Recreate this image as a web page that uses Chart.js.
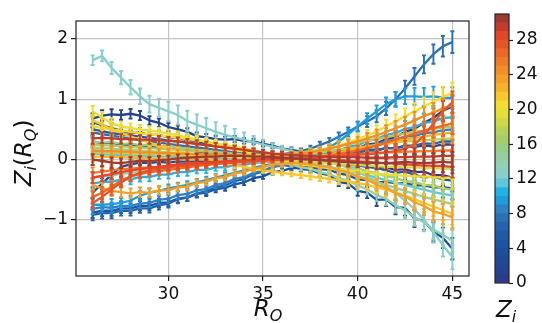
<!DOCTYPE html>
<html>
<head>
<meta charset="utf-8">
<script src="https://cdn.jsdelivr.net/npm/chart.js@4.4.1/dist/chart.umd.min.js"></script>
<style>
  body { margin: 0; background: #fff; }
  #main { position: absolute; left: 0; top: 0; }
  #cbar { position: absolute; left: 480px; top: 0; }
</style>
</head>
<body>
<canvas id="main" width="480" height="323"></canvas>
<canvas id="cbar" width="62" height="323"></canvas>
<script>
// x positions of the measurements (R_Q)
const xVals = [26, 26.5, 27, 27.5, 28, 28.5, 29, 29.5, 30, 30.5, 31, 31.5, 32, 32.5, 33, 33.5, 34, 34.5, 35, 35.5,
               36, 36.5, 37, 37.5, 38, 38.5, 39, 39.5, 40, 40.5, 41, 41.5, 42, 42.5, 43, 43.5, 44, 44.5, 45];
const xTicks = [30, 35, 40, 45];
const yTicks = [-1, 0, 1, 2];

// one line per Z_i
const z00 = [0.30,0.27,0.28,0.25,0.24,0.23,0.20,0.21,0.18,0.16, 0.16,0.13,0.12,0.12,0.09,0.10,0.07,0.06,0.06,0.03, 0.04,0.02,0.00,0.01,-0.02,-0.02,-0.05,-0.05,-0.09,-0.09, -0.13,-0.13,-0.17,-0.16,-0.21,-0.20,-0.26,-0.26,-0.30];
const z01 = [0.68,0.73,0.75,0.74,0.76,0.73,0.65,0.61,0.54,0.50, 0.46,0.39,0.37,0.34,0.33,0.34,0.31,0.30,0.26,0.23, 0.18,0.16,0.13,0.13,0.11,0.14,0.15,0.18,0.19,0.25, 0.27,0.34,0.37,0.46,0.51,0.61,0.69,0.81,0.88];
const z02 = [0.62,0.57,0.52,0.48,0.44,0.45,0.41,0.41,0.37,0.36, 0.32,0.31,0.26,0.25,0.20,0.19,0.14,0.13,0.09,0.09, 0.06,0.07,0.05,0.08,0.07,0.11,0.11,0.15,0.14,0.17, 0.16,0.19,0.19,0.22,0.21,0.23,0.22,0.25,0.25];
const z03 = [-0.55,-0.40,-0.25,-0.12,-0.08,-0.05,-0.06,-0.04,-0.05,-0.03, -0.04,-0.02,-0.03,-0.01,-0.03,0.00,-0.02,-0.01,-0.04,-0.04, -0.09,-0.11,-0.16,-0.17,-0.23,-0.26,-0.37,-0.40,-0.52,-0.55, -0.67,-0.66,-0.79,-0.80,-0.98,-1.02,-1.20,-1.30,-1.48];
const z04 = [-0.88,-0.85,-0.85,-0.81,-0.81,-0.77,-0.77,-0.72,-0.71,-0.65, -0.63,-0.57,-0.55,-0.49,-0.47,-0.41,-0.38,-0.31,-0.28,-0.21, -0.19,-0.14,-0.14,-0.12,-0.16,-0.17,-0.23,-0.26,-0.33,-0.34, -0.38,-0.37,-0.39,-0.39,-0.43,-0.43,-0.46,-0.46,-0.48];
const z05 = [0.50,0.47,0.44,0.42,0.40,0.38,0.36,0.34,0.32,0.30, 0.28,0.26,0.24,0.22,0.20,0.18,0.16,0.14,0.12,0.10, 0.08,0.06,0.04,0.02,0.00,-0.02,-0.05,-0.08,-0.10,-0.12, -0.14,-0.18,-0.22,-0.20,-0.25,-0.30,-0.28,-0.33,-0.35];
const z06 = [-0.92,-0.89,-0.89,-0.85,-0.85,-0.81,-0.81,-0.76,-0.73,-0.66, -0.63,-0.56,-0.53,-0.46,-0.43,-0.36,-0.32,-0.24,-0.20,-0.12, -0.09,-0.03,-0.02,0.03,0.03,0.07,0.07,0.11,0.11,0.15, 0.15,0.19,0.19,0.23,0.23,0.27,0.26,0.30,0.30];
const z07 = [0.45,0.42,0.40,0.37,0.35,0.32,0.30,0.28,0.26,0.24, 0.22,0.20,0.18,0.16,0.14,0.12,0.10,0.09,0.08,0.08, 0.09,0.11,0.14,0.18,0.24,0.30,0.38,0.46,0.55,0.63, 0.72,0.85,1.00,1.18,1.38,1.58,1.75,1.88,1.95];
const z08 = [-0.82,-0.79,-0.80,-0.77,-0.77,-0.73,-0.72,-0.67,-0.65,-0.59, -0.57,-0.51,-0.49,-0.42,-0.39,-0.32,-0.29,-0.22,-0.19,-0.12, -0.10,-0.04,-0.03,0.02,0.03,0.08,0.09,0.15,0.17,0.23, 0.25,0.31,0.33,0.38,0.39,0.44,0.45,0.49,0.50];
const z09 = [-0.75,-0.75,-0.74,-0.72,-0.68,-0.60,-0.55,-0.52,-0.48,-0.45, -0.42,-0.38,-0.34,-0.30,-0.26,-0.22,-0.18,-0.14,-0.10,-0.07, -0.04,-0.01,0.02,0.06,0.12,0.20,0.30,0.42,0.55,0.68, 0.80,0.92,1.00,1.05,1.05,1.04,1.05,1.03,1.02];
const z10 = [-0.40,-0.37,-0.37,-0.33,-0.33,-0.29,-0.29,-0.25,-0.25,-0.21, -0.21,-0.17,-0.17,-0.13,-0.13,-0.09,-0.09,-0.05,-0.05,-0.01, -0.01,0.03,0.03,0.07,0.08,0.13,0.15,0.21,0.24,0.31, 0.34,0.41,0.44,0.51,0.54,0.61,0.63,0.69,0.70];
const z11 = [0.10,0.09,0.08,0.08,0.07,0.06,0.06,0.05,0.05,0.04, 0.04,0.03,0.03,0.02,0.02,0.01,0.01,0.00,0.00,-0.01, -0.02,-0.03,-0.05,-0.07,-0.09,-0.12,-0.15,-0.18,-0.22,-0.26, -0.30,-0.34,-0.38,-0.42,-0.46,-0.50,-0.54,-0.57,-0.60];
const z12 = [1.65,1.72,1.52,1.36,1.20,1.05,0.92,0.86,0.80,0.74, 0.64,0.58,0.52,0.46,0.41,0.37,0.33,0.29,0.25,0.21, 0.18,0.14,0.10,0.06,0.02,-0.03,-0.08,-0.14,-0.20,-0.28, -0.36,-0.45,-0.55,-0.68,-0.82,-1.00,-1.20,-1.42,-1.62];
const z13 = [-0.30,-0.27,-0.27,-0.23,-0.23,-0.19,-0.19,-0.15,-0.15,-0.11, -0.11,-0.08,-0.09,-0.06,-0.07,-0.04,-0.05,-0.02,-0.04,-0.03, -0.07,-0.08,-0.13,-0.15,-0.21,-0.24,-0.31,-0.35,-0.43,-0.49, -0.59,-0.65,-0.76,-0.84,-0.96,-1.04,-1.16,-1.25,-1.35];
const z14 = [0.20,0.19,0.18,0.17,0.16,0.15,0.14,0.13,0.12,0.11, 0.10,0.09,0.08,0.07,0.06,0.05,0.04,0.03,0.02,0.01, 0.00,-0.02,-0.04,-0.07,-0.10,-0.14,-0.18,-0.22,-0.27,-0.32, -0.37,-0.42,-0.47,-0.52,-0.57,-0.62,-0.66,-0.70,-0.74];
const z15 = [0.30,0.28,0.29,0.26,0.27,0.24,0.25,0.22,0.23,0.19, 0.19,0.15,0.15,0.11,0.11,0.08,0.09,0.06,0.07,0.04, 0.05,0.02,0.03,-0.01,-0.01,-0.06,-0.07,-0.12,-0.14,-0.20, -0.22,-0.28,-0.30,-0.36,-0.37,-0.42,-0.43,-0.48,-0.50];
const z16 = [0.25,0.24,0.23,0.22,0.21,0.20,0.19,0.18,0.17,0.16, 0.15,0.14,0.13,0.12,0.11,0.10,0.09,0.08,0.08,0.08, 0.09,0.10,0.12,0.14,0.16,0.19,0.22,0.25,0.28,0.31, 0.34,0.37,0.40,0.43,0.46,0.48,0.51,0.53,0.55];
const z17 = [0.12,0.12,0.11,0.11,0.10,0.10,0.09,0.09,0.08,0.08, 0.07,0.07,0.06,0.06,0.05,0.05,0.04,0.04,0.04,0.05, 0.06,0.07,0.08,0.10,0.12,0.14,0.16,0.18,0.20,0.22, 0.24,0.26,0.28,0.30,0.31,0.32,0.33,0.34,0.35];
const z18 = [0.15,0.15,0.14,0.14,0.13,0.13,0.12,0.12,0.11,0.10, 0.09,0.08,0.07,0.06,0.05,0.04,0.03,0.02,0.01,0.00, -0.01,-0.02,-0.03,-0.04,-0.05,-0.06,-0.07,-0.08,-0.09,-0.10, -0.11,-0.12,-0.12,-0.13,-0.13,-0.14,-0.14,-0.15,-0.15];
const z19 = [0.80,0.70,0.60,0.55,0.52,0.50,0.48,0.46,0.43,0.40, 0.37,0.33,0.29,0.25,0.21,0.17,0.13,0.09,0.05,0.02, -0.02,-0.05,-0.08,-0.10,-0.12,-0.14,-0.16,-0.18,-0.20,-0.22, -0.24,-0.25,-0.26,-0.27,-0.28,-0.28,-0.29,-0.30,-0.30];
const z20 = [0.55,0.52,0.50,0.48,0.46,0.44,0.42,0.40,0.38,0.36, 0.34,0.32,0.30,0.27,0.24,0.21,0.18,0.15,0.12,0.10, 0.09,0.09,0.10,0.12,0.15,0.19,0.23,0.28,0.34,0.40, 0.47,0.55,0.63,0.72,0.80,0.88,0.96,1.04,1.10];
const z21 = [0.65,0.58,0.50,0.44,0.38,0.33,0.28,0.23,0.18,0.14, 0.10,0.06,0.02,-0.02,-0.06,-0.09,-0.12,-0.15,-0.18,-0.20, -0.22,-0.24,-0.26,-0.28,-0.30,-0.32,-0.34,-0.36,-0.39,-0.42, -0.46,-0.50,-0.55,-0.60,-0.66,-0.72,-0.78,-0.84,-0.90];
const z22 = [0.05,0.05,0.04,0.04,0.03,0.03,0.02,0.02,0.01,0.01, 0.00,0.00,0.00,-0.01,-0.01,-0.02,-0.02,-0.03,-0.03,-0.02, -0.01,0.00,0.02,0.04,0.06,0.09,0.12,0.15,0.18,0.21, 0.24,0.27,0.30,0.33,0.36,0.38,0.41,0.43,0.45];
const z23 = [-0.42,-0.48,-0.52,-0.54,-0.56,-0.54,-0.55,-0.51,-0.51,-0.46, -0.45,-0.39,-0.37,-0.31,-0.29,-0.23,-0.21,-0.15,-0.13,-0.08, -0.08,-0.05,-0.07,-0.07,-0.11,-0.12,-0.18,-0.21,-0.29,-0.33, -0.42,-0.47,-0.56,-0.61,-0.71,-0.77,-0.86,-0.90,-0.96];
const z24 = [0.15,0.14,0.14,0.13,0.13,0.12,0.12,0.11,0.11,0.10, 0.10,0.09,0.09,0.08,0.08,0.07,0.07,0.06,0.06,0.06, 0.07,0.08,0.10,0.12,0.15,0.18,0.22,0.26,0.30,0.35, 0.40,0.46,0.52,0.58,0.65,0.72,0.78,0.85,0.90];
const z25 = [-0.22,-0.20,-0.18,-0.16,-0.15,-0.14,-0.13,-0.12,-0.11,-0.10, -0.09,-0.08,-0.07,-0.06,-0.05,-0.04,-0.03,-0.02,-0.01,0.00, 0.01,0.02,0.03,0.04,0.05,0.06,0.07,0.08,0.09,0.10, 0.11,0.12,0.12,0.13,0.13,0.14,0.14,0.15,0.15];
const z26 = [-0.62,-0.55,-0.45,-0.35,-0.28,-0.24,-0.21,-0.19,-0.17,-0.15, -0.13,-0.11,-0.09,-0.07,-0.05,-0.04,-0.03,-0.02,-0.01,0.00, 0.01,0.02,0.03,0.04,0.05,0.07,0.09,0.12,0.15,0.19, 0.23,0.28,0.33,0.38,0.43,0.48,0.52,0.56,0.60];
const z27 = [-0.72,-0.62,-0.50,-0.38,-0.28,-0.22,-0.18,-0.15,-0.13,-0.11, -0.10,-0.09,-0.08,-0.07,-0.06,-0.05,-0.04,-0.03,-0.02,-0.01, 0.00,0.01,0.02,0.03,0.04,0.05,0.06,0.07,0.08,0.09, 0.10,0.12,0.14,0.18,0.25,0.40,0.60,0.80,0.95];
const z28 = [-0.30,-0.27,-0.24,-0.21,-0.18,-0.16,-0.14,-0.12,-0.10,-0.08, -0.07,-0.06,-0.05,-0.04,-0.03,-0.02,-0.01,0.00,0.01,0.02, 0.02,0.02,0.01,0.01,0.00,0.00,-0.01,-0.02,-0.03,-0.04, -0.05,-0.06,-0.07,-0.08,-0.09,-0.10,-0.10,-0.11,-0.12];
const z29 = [0.35,0.36,0.35,0.34,0.34,0.33,0.33,0.32,0.31,0.30, 0.28,0.26,0.24,0.22,0.20,0.18,0.16,0.14,0.12,0.10, 0.09,0.08,0.07,0.06,0.05,0.05,0.04,0.04,0.04,0.03, 0.03,0.03,0.04,0.04,0.05,0.05,0.05,0.06,0.06];
const z30 = [0.00,-0.02,-0.05,-0.06,-0.04,-0.02,-0.03,-0.01,0.00,0.02, 0.03,0.04,0.05,0.05,0.06,0.06,0.06,0.05,0.05,0.04, 0.03,0.02,0.01,0.00,-0.01,-0.02,-0.03,-0.04,-0.05,-0.05, -0.06,-0.06,-0.05,-0.04,-0.05,-0.06,-0.05,-0.04,-0.05];

const allSeries = [z00, z01, z02, z03, z04, z05, z06, z07, z08, z09, z10, z11, z12, z13, z14, z15,
                   z16, z17, z18, z19, z20, z21, z22, z23, z24, z25, z26, z27, z28, z29, z30];

// error bar half-widths
const errCommon = [0.09,0.09,0.085,0.08,0.08,0.075,0.07,0.07,0.065,0.065, 0.06,0.06,0.055,0.055,0.05,0.05,0.045,0.045,0.04,0.04, 0.04,0.04,0.045,0.05,0.055,0.06,0.07,0.075,0.08,0.09, 0.10,0.11,0.12,0.13,0.14,0.15,0.16,0.17,0.18];
const errTeal = [0.08,0.09,0.10,0.11,0.12,0.13,0.14,0.15,0.16,0.16, 0.17,0.17,0.17,0.16,0.15,0.14,0.12,0.10,0.08,0.06, 0.05,0.05,0.05,0.06,0.07,0.08,0.09,0.10,0.11,0.12, 0.13,0.14,0.15,0.16,0.17,0.18,0.18,0.19,0.20];

// colour of each Z_i (also the colorbar bands)
const zColors = ['#2b3a8c','#25428f','#1f4995','#1c4e9b','#1c54a1','#1f5aa7','#2462ae','#2b6fb8',
                 '#2d82c6','#1d9ddc','#22b3e6','#62c5dc','#86cfca','#8fd0b6','#95cf9f','#9ccd84',
                 '#a6cd68','#b8d255','#cdd946','#e6df36','#f6dc2c','#f9c62b','#f7b129','#f49f28',
                 '#f28d27','#f07b26','#ed6824','#e85524','#e2452a','#c43b2c','#9f3a31'];
const cbarEdges = [0,1,2,3,4,5,6,7,8,9,10,11,12,13,14,15,16,17,18,19,20,21,22,23,24,25,26,27,28,29,30,31];
const cbarTicks = [0, 4, 8, 12, 16, 20, 24, 28];

Chart.defaults.font.family = 'DejaVu Sans';
Chart.defaults.color = '#111';

const minus = v => (v < 0 ? '\u2212' + Math.abs(v) : String(v));

// draws the error bars right after each line so stacking matches
const errorBars = {
  id: 'errorBars',
  afterDatasetDraw(chart, args) {
    const ds = chart.data.datasets[args.index];
    const xs = chart.scales.x, ys = chart.scales.y;
    const ctx = chart.ctx;
    ctx.save();
    ctx.strokeStyle = ds.borderColor;
    ctx.lineWidth = 1.9;
    ds.data.forEach((p, i) => {
      const e = ds.errs[i];
      const px = xs.getPixelForValue(p.x);
      const top = ys.getPixelForValue(p.y + e);
      const bot = ys.getPixelForValue(p.y - e);
      ctx.beginPath();
      ctx.moveTo(px, top); ctx.lineTo(px, bot);
      ctx.moveTo(px - 2, top); ctx.lineTo(px + 2, top);
      ctx.moveTo(px - 2, bot); ctx.lineTo(px + 2, bot);
      ctx.stroke();
    });
    ctx.restore();
  }
};

// pieces of a math-style label: [text, italic, subscript]
function drawMath(ctx, parts, size) {
  const sub = Math.round(size * 0.7);
  const fontOf = p => (p[1] ? 'italic ' : '') + (p[2] ? sub : size) + 'px "DejaVu Sans"';
  let total = 0;
  parts.forEach(p => { ctx.font = fontOf(p); total += ctx.measureText(p[0]).width; });
  let x = -total / 2;
  parts.forEach(p => {
    ctx.font = fontOf(p);
    ctx.fillText(p[0], x, p[2] ? size * 0.22 : 0);
    x += ctx.measureText(p[0]).width;
  });
}

const frameAndLabels = {
  id: 'frameAndLabels',
  afterDraw(chart) {
    const { ctx, chartArea: a } = chart;
    ctx.save();
    ctx.strokeStyle = '#222';
    ctx.lineWidth = 1.2;
    ctx.strokeRect(a.left, a.top, a.right - a.left, a.bottom - a.top);
    ctx.fillStyle = '#111';
    ctx.textBaseline = 'alphabetic';
    // x label
    ctx.save();
    ctx.translate(268, 316);
    drawMath(ctx, [['R', true, false], ['O', true, true]], 23);
    ctx.restore();
    // y label
    ctx.save();
    ctx.translate(31, 153);
    ctx.rotate(-Math.PI / 2);
    drawMath(ctx, [['Z', true, false], ['i', true, true], ['(', false, false], ['R', true, false], ['Q', true, true], [')', false, false]], 23);
    ctx.restore();
    ctx.restore();
  }
};

const datasets = allSeries.map((vals, z) => ({
  data: xVals.map((x, i) => ({ x: x, y: vals[i] })),
  borderColor: zColors[z],
  borderWidth: 2.3,
  pointRadius: 0,
  fill: false,
  tension: 0,
  order: 30 - z,
  errs: z === 12 ? errTeal : errCommon
}));

new Chart(document.getElementById('main'), {
  type: 'line',
  data: { datasets: datasets },
  options: {
    responsive: false,
    animation: false,
    layout: { padding: { top: 21, right: 11, left: 0, bottom: 0 } },
    plugins: { legend: { display: false }, tooltip: { enabled: false } },
    scales: {
      x: {
        type: 'linear', min: 25.12, max: 45.88,
        afterBuildTicks: s => { s.ticks = xTicks.map(v => ({ value: v })); },
        afterFit: s => { s.height = 47; },
        ticks: { font: { size: 17 }, color: '#111', padding: 3, maxRotation: 0, callback: v => minus(v) },
        grid: { color: '#c4c4c4', lineWidth: 1.2, tickLength: 5, tickColor: '#222', tickWidth: 1.2 },
        border: { display: false }
      },
      y: {
        type: 'linear', min: -1.933, max: 2.30,
        afterBuildTicks: s => { s.ticks = yTicks.map(v => ({ value: v })); },
        afterFit: s => { s.width = 76; },
        ticks: { font: { size: 17 }, color: '#111', padding: 3, callback: v => minus(v) },
        grid: { color: '#c4c4c4', lineWidth: 1.2, tickLength: 5, tickColor: '#222', tickWidth: 1.2 },
        border: { display: false }
      }
    }
  },
  plugins: [errorBars, frameAndLabels]
});

// colorbar
const cbarFrame = {
  id: 'cbarFrame',
  afterDraw(chart) {
    const { ctx, chartArea: a } = chart;
    ctx.save();
    ctx.strokeStyle = '#222';
    ctx.lineWidth = 1.2;
    ctx.strokeRect(a.left, a.top, a.right - a.left, a.bottom - a.top);
    ctx.fillStyle = '#111';
    ctx.textBaseline = 'alphabetic';
    ctx.translate(a.left + 11, 317);
    drawMath(ctx, [['Z', true, false], ['i', true, true]], 23);
    ctx.restore();
  }
};

new Chart(document.getElementById('cbar'), {
  type: 'bar',
  data: {
    labels: [''],
    datasets: zColors.map((c, k) => ({
      data: [[cbarEdges[k], cbarEdges[k + 1]]],
      backgroundColor: c,
      borderWidth: 0,
      barPercentage: 1,
      categoryPercentage: 1,
      grouped: false
    }))
  },
  options: {
    responsive: false,
    animation: false,
    layout: { padding: { top: 14, left: 15, right: 0, bottom: 40 } },
    plugins: { legend: { display: false }, tooltip: { enabled: false } },
    scales: {
      x: { display: false },
      y: {
        type: 'linear', position: 'right', min: 0, max: 31,
        afterBuildTicks: s => { s.ticks = cbarTicks.map(v => ({ value: v })); },
        afterFit: s => { s.width = 33; },
        ticks: { font: { size: 17 }, color: '#111', padding: 3 },
        grid: { drawOnChartArea: false, tickLength: 4, tickColor: '#222', tickWidth: 1.2 },
        border: { display: false }
      }
    }
  },
  plugins: [cbarFrame]
});
</script>
</body>
</html>
